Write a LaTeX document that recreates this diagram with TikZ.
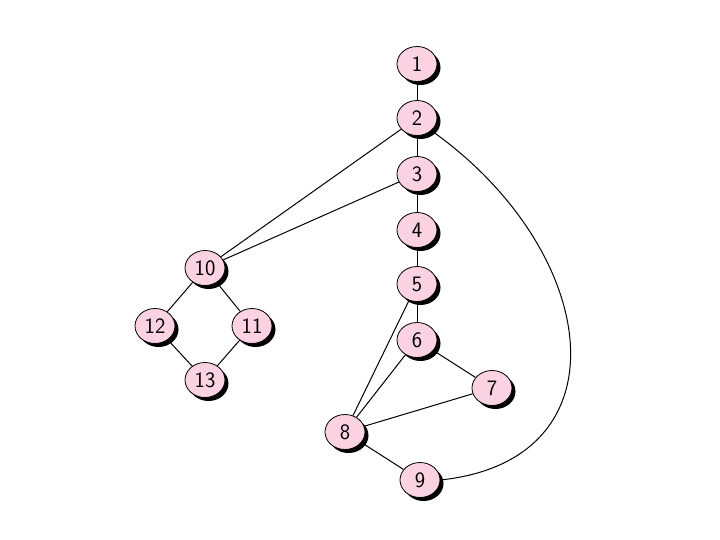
\documentclass[tikz,border=0pt]{standalone}
\usetikzlibrary{shapes.geometric,shadows}
\definecolor{nodepink}{RGB}{250,210,226}

\begin{document}
\begin{tikzpicture}[x=1pt, y=-1pt,
    every node/.style={ellipse, draw=black, thick, fill=nodepink,
        minimum width=40pt, minimum height=35pt, inner sep=0pt,
        font=\sffamily\fontsize{22}{24}\selectfont,
        drop shadow={shadow xshift=3.5pt, shadow yshift=-3.5pt, fill=black, opacity=1}},
    edge/.style={draw=black, line width=1pt}]
        \useasboundingbox (0,0) rectangle (720,540);

        % Main column
        \node (n1) at (417,64) {1};
        \node (n2) at (417,118) {2};
        \node (n3) at (417,174) {3};
        \node (n4) at (417,230) {4};
        \node (n5) at (417,284) {5};
        \node (n6) at (417,340) {6};
        \node (n7) at (492,388) {7};
        \node (n8) at (345,432) {8};
        \node (n9) at (420,480) {9};

        % Left diamond
        \node (n10) at (205,268) {10};
        \node (n11) at (252,326) {11};
        \node (n12) at (155,326) {12};
        \node (n13) at (205,380) {13};

        % Edges
        \foreach \a/\b in {n1/n2, n2/n3, n3/n4, n4/n5, n5/n6, n6/n7, n7/n8,
                           n6/n8, n5/n8, n8/n9, n2/n10, n3/n10,
                           n10/n12, n10/n11, n12/n13, n11/n13} {
            \draw[edge] (\a) -- (\b);
        }

        % Loop back from 9 to 2
        \draw[edge] (n9.east) .. controls (630,460) and (600,250) .. (n2.south east);
    \end{tikzpicture}
\end{document}
